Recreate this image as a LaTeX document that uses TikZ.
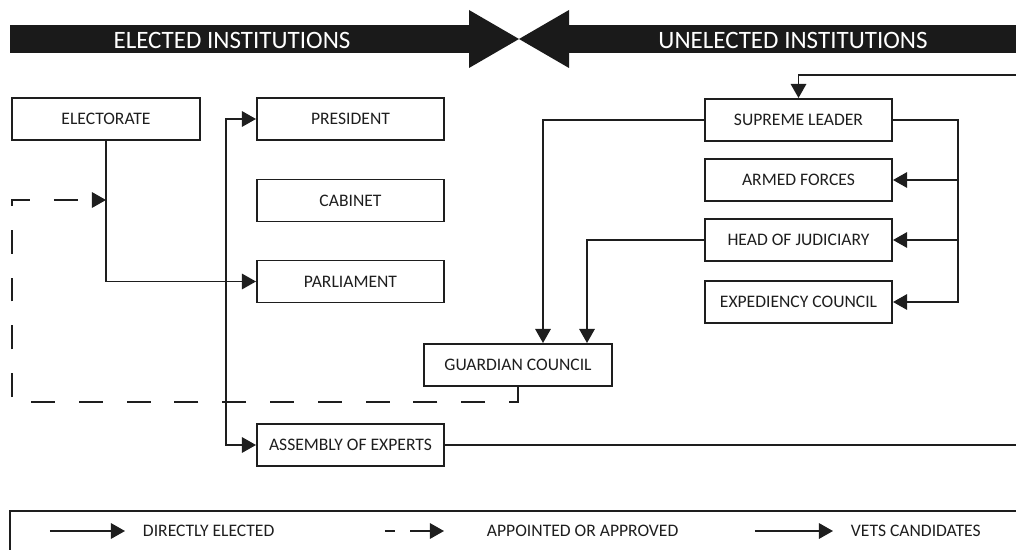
\documentclass[tikz,border=0pt]{standalone}
\usepackage{fontspec}
\setmainfont{Carlito}
\usetikzlibrary{arrows.meta, calc}
\definecolor{banner}{HTML}{1A1A1A}
\definecolor{ink}{HTML}{1E1E1E}
\tikzset{
  >={Triangle[length=10pt, width=11pt]},
  inst/.style={draw=ink, line width=1.4pt, minimum width=4.675cm, minimum height=1.05cm, inner sep=0pt, font=\fontsize{12.5}{15}\selectfont, text=ink},
  link/.style={->, line width=1.2pt, color=ink},
  approved/.style={link, dash pattern=on 17pt off 17pt},
  header/.style={font=\fontsize{17.8}{21}\selectfont, text=white},
  legtext/.style={anchor=west, font=\fontsize{12.5}{15}\selectfont, text=ink}
}

\begin{document}
\begin{tikzpicture}[x=0.025cm, y=-0.025cm]
\useasboundingbox (0,0) rectangle (1016,550);
\clip (0,0) rectangle (1016,550);
% banner
\fill[banner] (10,25) rectangle (469,53);
\fill[banner] (469,10) -- (519,39) -- (469,68) -- cycle;
\fill[banner] (569,10) -- (519,39) -- (569,68) -- cycle;
\fill[banner] (569,25) rectangle (1030,53);
\node[header] (elected) at (232,40) {ELECTED INSTITUTIONS};
\node[header] (unelected) at (793,40) {UNELECTED INSTITUTIONS};

% institutions
\node[inst] (electorate) at (106,119) {ELECTORATE};
\node[inst] (president) at (350.5,119) {PRESIDENT};
\node[inst] (cabinet) at (350.5,200.5) {CABINET};
\node[inst] (parliament) at (350.5,281.5) {PARLIAMENT};
\node[inst] (guardian) at (518,365) {GUARDIAN COUNCIL};
\node[inst] (assembly) at (350.5,445) {ASSEMBLY OF EXPERTS};
\node[inst] (leader) at (798.5,120) {SUPREME LEADER};
\node[inst] (armed) at (798.5,180) {ARMED FORCES};
\node[inst] (judiciary) at (798.5,240) {HEAD OF JUDICIARY};
\node[inst] (expediency) at (798.5,302) {EXPEDIENCY COUNCIL};

\coordinate (dashcorner) at (12,402);
\coordinate (vote) at (106,200);
\coordinate (bus) at (958,120);
\coordinate (outer) at (1040,75);

% connectors
\draw[link] (electorate.south) |- (parliament.west);
\draw[link, <->] (president.west) -- ++(-30,0) |- (assembly.west);
\draw[approved] (guardian.south) |- (dashcorner) |- (vote);
\draw[link] (leader.west) -| ($(guardian.north)+(25,0)$);
\draw[link] (judiciary.west) -| ($(guardian.north)+(69,0)$);
\draw[link] (leader.east) -- (bus) |- (expediency.east);
\foreach \n in {armed, judiciary}
  \draw[link] (bus |- \n.east) -- (\n.east);
\draw[link] (assembly.east) -| (outer) -| (leader.north);

% legend
\draw[ink, line width=1.4pt] (10,511) rectangle (1040,580);
\node[legtext] (lelected) at (138,531) {DIRECTLY ELECTED};
\node[legtext] (lapproved) at (482,531) {APPOINTED OR APPROVED};
\node[legtext] (lvets) at (846,531) {VETS CANDIDATES};
\draw[link] ([xshift=-2.2cm]lelected.west) -- ([xshift=-0.325cm]lelected.west);
\draw[link, dash pattern=on 7pt off 11pt on 30pt off 11pt] ([xshift=-2.425cm]lapproved.west) -- ([xshift=-0.95cm]lapproved.west);
\draw[link] ([xshift=-2.275cm]lvets.west) -- ([xshift=-0.325cm]lvets.west);
\end{tikzpicture}
\end{document}
